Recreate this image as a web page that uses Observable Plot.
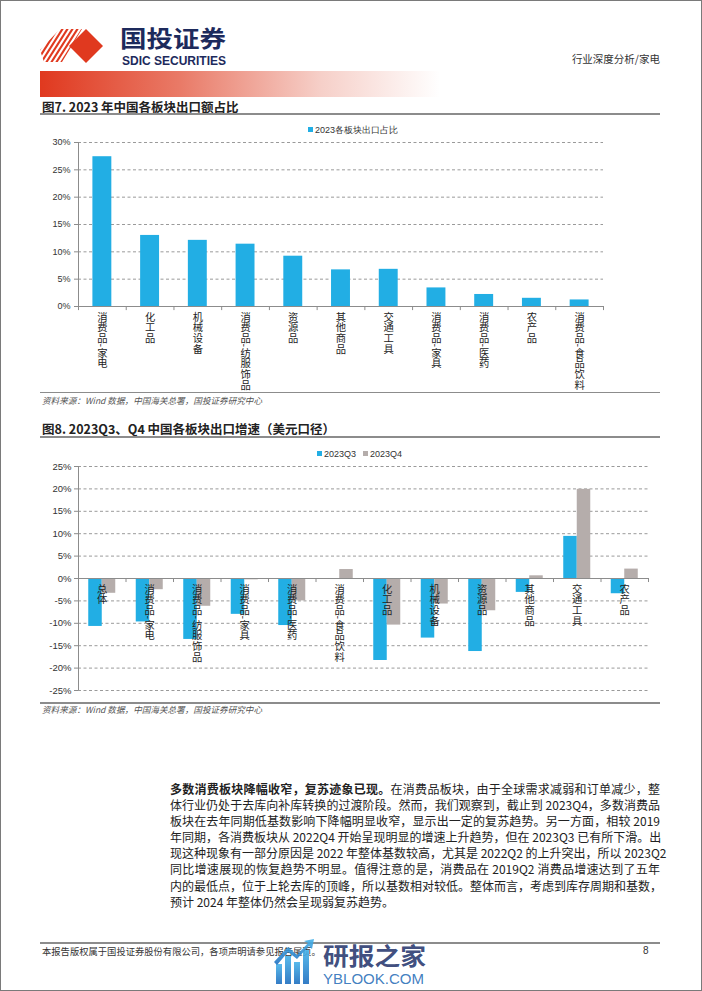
<!DOCTYPE html>
<html><head><meta charset="utf-8">
<script src="https://cdn.jsdelivr.net/npm/d3@7"></script>
<script src="https://cdn.jsdelivr.net/npm/@observablehq/plot@0.6"></script>
<style>
html,body{margin:0;padding:0;background:#fff;}
#page{position:relative;width:702px;height:991px;overflow:hidden;background:#fff;font-family:"Noto Sans CJK SC","Noto Sans",sans-serif;color:#222;}
.abs{position:absolute;white-space:nowrap;}
.ftitle{left:42px;font-size:12.5px;font-weight:700;color:#222;line-height:16px;}
.hr{position:absolute;left:40px;width:620px;background:#8c8c8c;}
.src{left:42px;font-size:8.6px;font-style:italic;color:#555;line-height:12px;}
.leg{font-family:"Liberation Sans",Arial,sans-serif;font-size:9px;color:#333;line-height:10px;}
.sw{display:inline-block;width:5px;height:5px;margin-right:2px;vertical-align:1px;}
.para{position:absolute;left:170px;width:490px;font-size:12px;line-height:16.1px;color:#222;}
.para div{white-space:nowrap;text-align:justify;text-align-last:justify;height:16.1px;}
.para div.last{text-align-last:left;}
</style></head>
<body><div id="page"></div>
<script>
// ---------- data ----------
const sectors1 = ["消费品-家电","化工品","机械设备","消费品-纺服饰品","资源品","其他商品","交通工具","消费品-家具","消费品-医药","农产品","消费品-食品饮料"];
const share2023 = [27.4, 13.0, 12.1, 11.4, 9.2, 6.7, 6.8, 3.4, 2.2, 1.5, 1.2];
const ticks1 = [0, 5, 10, 15, 20, 25, 30];
const legend1 = "2023各板块出口占比";

const sectors2 = ["总体","消费品-家电","消费品-纺服饰品","消费品-家具","消费品-医药","消费品-食品饮料","化工品","机械设备","资源品","其他商品","交通工具","农产品"];
const growthQ3 = [-10.7, -9.7, -13.6, -8.0, -10.5, 0.0, -18.3, -13.3, -16.3, -3.1, 9.4, -3.4];
const growthQ4 = [-3.3, -2.5, -6.2, -0.3, -5.0, 2.0, -10.4, -5.7, -7.2, 0.6, 19.9, 2.1];
const ticks2 = [-25, -20, -15, -10, -5, 0, 5, 10, 15, 20, 25];
const seriesNames = ["2023Q3", "2023Q4"];

const paragraph = [
  ["多数消费板块降幅收窄，复苏迹象已现。", "在消费品板块，由于全球需求减弱和订单减少，整"],
  ["", "体行业仍处于去库向补库转换的过渡阶段。然而，我们观察到，截止到 2023Q4，多数消费品"],
  ["", "板块在去年同期低基数影响下降幅明显收窄，显示出一定的复苏趋势。另一方面，相较 2019"],
  ["", "年同期，各消费板块从 2022Q4 开始呈现明显的增速上升趋势，但在 2023Q3 已有所下滑。出"],
  ["", "现这种现象有一部分原因是 2022 年整体基数较高，尤其是 2022Q2 的上升突出，所以 2023Q2"],
  ["", "同比增速展现的恢复趋势不明显。值得注意的是，消费品在 2019Q2 消费品增速达到了五年"],
  ["", "内的最低点，位于上轮去库的顶峰，所以基数相对较低。整体而言，考虑到库存周期和基数，"],
  ["", "预计 2024 年整体仍然会呈现弱复苏趋势。"]
];

// ---------- colors ----------
const BLUE = "#22AEE4", GREY = "#B5ADAB", AXIS = "#8c8c8c", GRID = "#9a9a9a";

const page = document.getElementById("page");
function add(html){ page.insertAdjacentHTML("beforeend", html); }

// ---------- header ----------
add(`<svg class="abs" style="left:0;top:0" width="702" height="991">
  <rect x="0.5" y="0.5" width="701" height="990" fill="none" stroke="#7a7a7a"/>
  <defs>
    <clipPath id="stripeClip"><polygon points="40,50 60,29 82,29 62,62 44,62"/></clipPath>
    <linearGradient id="band" x1="0" x2="1" y1="0" y2="0">
      <stop offset="0" stop-color="#E0391F"/>
      <stop offset="0.35" stop-color="#E97A67"/>
      <stop offset="0.7" stop-color="#F6CFC8"/>
      <stop offset="1" stop-color="#ffffff"/>
    </linearGradient>
  </defs>
  <g clip-path="url(#stripeClip)" stroke="#E0391F" stroke-width="2.1">
    ${d3.range(10).map(k => `<line x1="${24 + k*5}" y1="66" x2="${50 + k*5}" y2="25"/>`).join("")}
  </g>
  <polygon points="86,29 103,46 86,63 69,46" fill="#E0391F"/>
  <text x="120" y="47" font-family="Noto Sans CJK SC" font-weight="700" font-size="23" fill="#1d2a5c" textLength="106" lengthAdjust="spacingAndGlyphs">国投证券</text>
  <text x="122" y="64.5" font-family="Liberation Sans Narrow, Liberation Sans, Arial" font-weight="700" font-size="12" fill="#1d2a5c" textLength="104" lengthAdjust="spacingAndGlyphs">SDIC SECURITIES</text>
  <text x="660" y="63" text-anchor="end" font-family="Noto Sans CJK SC" font-size="10.5" fill="#333">行业深度分析/家电</text>
  <rect x="40" y="71" width="400" height="26" fill="url(#band)"/>
</svg>`);

// ---------- figure 7 ----------
add(`<div class="abs ftitle" style="top:99px">图7. 2023 年中国各板块出口额占比</div>`);
add(`<div class="hr" style="top:112.5px;height:2px"></div>`);
add(`<div class="abs leg" style="left:308px;top:125px"><span class="sw" style="background:${BLUE}"></span>${legend1}</div>`);

const rows1 = sectors1.map((name, i) => ({name, i, v: share2023[i]}));
const n1 = sectors1.length;
const chart1 = Plot.plot({
  width: 620, height: 262, marginLeft: 38, marginRight: 57, marginTop: 10, marginBottom: 88,
  style: {background: "transparent", fontFamily: "Liberation Sans, Arial, sans-serif", fontSize: "9px", color: "#333", overflow: "visible"},
  x: {domain: [0, n1], axis: null},
  y: {domain: [0, 30], axis: null},
  marks: [
    Plot.gridY(ticks1.filter(d => d > 0), {stroke: GRID, strokeOpacity: 1, strokeDasharray: "3,2.5"}),
    Plot.rectY(rows1, {x1: d => d.i, x2: d => d.i + 1, y: "v", insetLeft: 14.4, insetRight: 14.4, fill: BLUE}),
    Plot.ruleY([0], {stroke: AXIS}),
    Plot.ruleX([0], {y1: 0, y2: 30, stroke: AXIS}),
    Plot.ruleX(d3.range(n1 + 1), {y1: 0, y2: -0.75, stroke: AXIS}),
    Plot.axisY(ticks1, {tickSize: 4, tickPadding: 4, stroke: AXIS, fill: "#333", tickFormat: d => d + "%", label: null, fontSize: 9}),
    Plot.text(rows1, {x: d => d.i + 0.5, y: 0, text: "name", dy: 5, textAnchor: "start", lineAnchor: "bottom",
      fontSize: 10.3, fontFamily: "Noto Sans CJK SC", fill: "#222", ariaDescription: "catlabels"})
  ]
});
chart1.style.position = "absolute"; chart1.style.left = "40px"; chart1.style.top = "132px";
page.appendChild(chart1);

add(`<div class="hr" style="top:391.5px;height:1.5px"></div>`);
add(`<div class="abs src" style="top:394px">资料来源：Wind 数据，中国海关总署，国投证券研究中心</div>`);

// ---------- figure 8 ----------
add(`<div class="abs ftitle" style="top:421px">图8. 2023Q3、Q4 中国各板块出口增速（美元口径）</div>`);
add(`<div class="hr" style="top:435.5px;height:2px"></div>`);
add(`<div class="abs leg" style="left:317px;top:449px"><span class="sw" style="background:${BLUE}"></span>${seriesNames[0]}<span style="display:inline-block;width:7px"></span><span class="sw" style="background:${GREY}"></span>${seriesNames[1]}</div>`);

const rows2 = sectors2.map((name, i) => ({name, i, q3: growthQ3[i], q4: growthQ4[i]}));
const n2 = sectors2.length;
const chart2 = Plot.plot({
  width: 620, height: 240, marginLeft: 38, marginRight: 12, marginTop: 8, marginBottom: 8,
  style: {background: "transparent", fontFamily: "Liberation Sans, Arial, sans-serif", fontSize: "9.5px", color: "#333", overflow: "visible"},
  x: {domain: [0, n2], axis: null},
  y: {domain: [-25, 25], axis: null},
  marks: [
    Plot.gridY(ticks2.filter(d => d !== 0), {stroke: GRID, strokeOpacity: 1, strokeDasharray: "3,2.5"}),
    Plot.rectY(rows2, {x1: d => d.i, x2: d => d.i + 1, y: "q3", insetLeft: 10.25, insetRight: 23.75, fill: BLUE}),
    Plot.rectY(rows2, {x1: d => d.i, x2: d => d.i + 1, y: "q4", insetLeft: 23.75, insetRight: 10.25, fill: GREY}),
    Plot.ruleY([0], {stroke: AXIS}),
    Plot.ruleX([0], {y1: -25, y2: 25, stroke: AXIS}),
    Plot.ruleX(d3.range(n2 + 1), {y1: 0, y2: -0.9, stroke: AXIS}),
    Plot.axisY(ticks2, {tickSize: 4, tickPadding: 3, stroke: AXIS, fill: "#333", tickFormat: d => d + "%", label: null, fontSize: 9.5}),
    Plot.text(rows2, {x: d => d.i + 0.5, y: 0, text: "name", dy: 5, textAnchor: "start", lineAnchor: "bottom",
      fontSize: 10.3, fontFamily: "Noto Sans CJK SC", fill: "#222", ariaDescription: "catlabels"})
  ]
});
chart2.style.position = "absolute"; chart2.style.left = "40px"; chart2.style.top = "458px";
page.appendChild(chart2);

add(`<div class="hr" style="top:702px;height:1.5px"></div>`);
add(`<div class="abs src" style="top:703px">资料来源：Wind 数据，中国海关总署，国投证券研究中心</div>`);

// vertical category labels
document.querySelectorAll('g[aria-description="catlabels"] text').forEach(t => {
  t.setAttribute("writing-mode", "vertical-rl");
  t.style.writingMode = "vertical-rl";
  t.style.letterSpacing = "0.4px";
});

// ---------- paragraph ----------
add(`<div class="para" style="top:781px">${paragraph.map((l, k) =>
  `<div class="${k === paragraph.length - 1 ? "last" : ""}">${l[0] ? `<b>${l[0]}</b>` : ""}${l[1]}</div>`).join("")}</div>`);

// ---------- footer ----------
add(`<div class="hr" style="top:942px;height:1.5px"></div>`);
add(`<div class="abs" style="left:42px;top:945px;font-size:9.3px;color:#333;line-height:12px">本报告版权属于国投证券股份有限公司，各项声明请参见报告尾页。</div>`);
add(`<div class="abs" style="left:643px;top:945px;font-family:'Liberation Sans',Arial;font-size:10px;color:#333;line-height:12px">8</div>`);
add(`<svg class="abs" style="left:270px;top:938px" width="170" height="50">
  <defs><linearGradient id="wm" x1="0" y1="1" x2="0" y2="0"><stop offset="0" stop-color="#1f6fc0"/><stop offset="1" stop-color="#47b3ea"/></linearGradient></defs>
  <g fill="url(#wm)" opacity="0.9">
    <rect x="6" y="26" width="6" height="20"/><rect x="15" y="18" width="6" height="28"/><rect x="24" y="24" width="6" height="22"/><rect x="33" y="12" width="6" height="34"/>
    <polygon points="4,24 18,9 27,17 38,5 34,3 44,1 42,11 39,8 27,21 18,14 7,27"/>
  </g>
  <text x="53" y="27" font-family="Noto Sans CJK SC" font-weight="700" font-size="24" fill="#27386e" fill-opacity="0.9" textLength="103" lengthAdjust="spacingAndGlyphs">研报之家</text>
  <text x="53" y="46" font-family="Liberation Sans, Arial" font-size="14" fill="#2b6fb8" fill-opacity="0.9" textLength="101" lengthAdjust="spacingAndGlyphs">YBLOOK.COM</text>
</svg>`);
</script>
</body></html>
